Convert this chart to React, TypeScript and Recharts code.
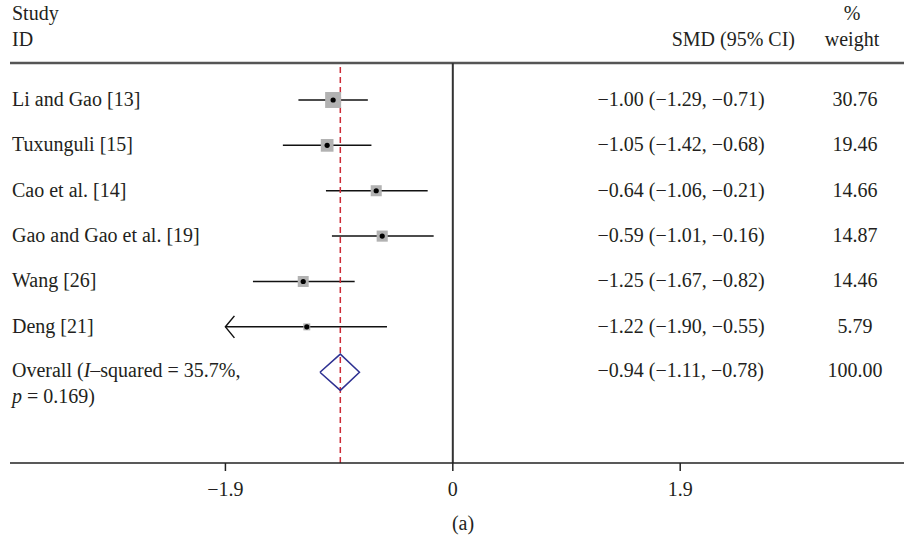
import React from 'react';
import { ScatterChart, Scatter, XAxis, YAxis, ReferenceLine, Customized } from 'recharts';

// ---- data ----
const studies = ['Li and Gao [13]', 'Tuxunguli [15]', 'Cao et al. [14]', 'Gao and Gao et al. [19]', 'Wang [26]', 'Deng [21]'];
const smd = [-1.0, -1.05, -0.64, -0.59, -1.25, -1.22];
const ciLow = [-1.29, -1.42, -1.06, -1.01, -1.67, -1.9];
const ciHigh = [-0.71, -0.68, -0.21, -0.16, -0.82, -0.55];
const weights = [30.76, 19.46, 14.66, 14.87, 14.46, 5.79];
const overallSmd = -0.94;
const overallLow = -1.11;
const overallHigh = -0.78;
const overallWeight = 100.0;
const overallI2 = '35.7%';
const overallP = '0.169';
const xTicks = [-1.9, 0, 1.9];

// ---- layout constants ----
const W = 904;
const H = 536;
const X_MIN = -3.7;
const X_MAX = 3.77;
const Y_MIN = -0.815;
const Y_MAX = 8.0;
const ARROW_LIMIT = -1.9;
const SQUARE_SCALE = 2.88;
const DIAMOND_HALF = 0.4;
const FONT = "'Liberation Serif', 'Times New Roman', serif";
const TEXT = '#231f20';
const OVERALL_ROW = studies.length;
const COL_STUDY = 12;
const COL_SMD = 597.5;
const COL_WEIGHT = 855;

const fmt = (v: number) => (v < 0 ? '\u2212' : '') + Math.abs(v).toFixed(2);
const fmtTick = (v: number) => (v < 0 ? '\u2212' : '') + String(Math.abs(v));

const studyData = studies.map((s, i) => ({ x: smd[i], y: i, w: weights[i] }));
const diamondData = [
  { x: overallLow, y: OVERALL_ROW },
  { x: overallSmd, y: OVERALL_ROW - DIAMOND_HALF },
  { x: overallHigh, y: OVERALL_ROW },
  { x: overallSmd, y: OVERALL_ROW + DIAMOND_HALF },
  { x: overallLow, y: OVERALL_ROW },
];
const rowData = [...studies.map((_, i) => ({ x: 0, y: i, row: i })), { x: 0, y: OVERALL_ROW, row: OVERALL_ROW }];

const common = { fontFamily: FONT, fontSize: 20, fill: TEXT };

const StudyMarker = (props: any) => {
  const { cx, cy, payload } = props;
  const s = SQUARE_SCALE * Math.sqrt(payload.w);
  return (
    <g>
      <rect x={cx - s / 2} y={cy - s / 2} width={s} height={s} fill="#b2b2b2" />
      <circle cx={cx} cy={cy} r={2.6} fill="#000" />
    </g>
  );
};

const ArrowSegment = (props: any) => {
  const { x1, y1, x2, y2, stroke, strokeWidth } = props;
  const left = Math.min(x1, x2);
  return (
    <g>
      <line x1={x1} y1={y1} x2={x2} y2={y2} stroke={stroke} strokeWidth={strokeWidth} />
      <polyline
        points={`${left + 9},${y1 - 11} ${left},${y1} ${left + 9},${y1 + 11}`}
        fill="none"
        stroke={stroke}
        strokeWidth={strokeWidth}
      />
    </g>
  );
};

const RowText = (props: any) => {
  const { cy, payload } = props;
  const i = payload.row as number;
  const y = cy;
  if (i === OVERALL_ROW) {
    return (
      <g>
        <text x={COL_STUDY} y={y + 5} {...common}>
          Overall (<tspan fontStyle="italic">I</tspan>–squared = {overallI2},
        </text>
        <text x={COL_STUDY} y={y + 31} {...common}>
          <tspan fontStyle="italic">p</tspan> = {overallP})
        </text>
        <text x={COL_SMD} y={y + 5} {...common}>
          {`${fmt(overallSmd)} (${fmt(overallLow)}, ${fmt(overallHigh)})`}
        </text>
        <text x={COL_WEIGHT} y={y + 5} textAnchor="middle" {...common}>
          {overallWeight.toFixed(2)}
        </text>
      </g>
    );
  }
  return (
    <g>
      <text x={COL_STUDY} y={y + 6} {...common}>
        {studies[i]}
      </text>
      <text x={COL_SMD} y={y + 6} {...common}>
        {`${fmt(smd[i])} (${fmt(ciLow[i])}, ${fmt(ciHigh[i])})`}
      </text>
      <text x={COL_WEIGHT} y={y + 6} textAnchor="middle" {...common}>
        {weights[i].toFixed(2)}
      </text>
    </g>
  );
};

const Headers = () => (
  <g>
    <text x={COL_STUDY} y={20} {...common}>Study</text>
    <text x={COL_STUDY} y={46} {...common}>ID</text>
    <text x={795} y={46} textAnchor="end" {...common}>SMD (95% CI)</text>
    <text x={852} y={20} textAnchor="middle" {...common}>%</text>
    <text x={852} y={46} textAnchor="middle" {...common}>weight</text>
    <text x={463} y={530} textAnchor="middle" {...common}>(a)</text>
  </g>
);

export default function App() {
  return (
    <div style={{ position: 'absolute', left: 0, top: 0, width: W, height: H, background: '#fff' }}>
      <ScatterChart width={W} height={H} margin={{ top: 63, right: 0, bottom: 33, left: 10 }}>
        <XAxis
          type="number"
          dataKey="x"
          domain={[X_MIN, X_MAX]}
          allowDataOverflow
          ticks={xTicks}
          interval={0}
          tickFormatter={fmtTick}
          height={40}
          tickSize={8}
          tickMargin={11}
          axisLine={{ stroke: '#222', strokeWidth: 1.5 }}
          tickLine={{ stroke: '#222', strokeWidth: 1.5 }}
          tick={{ fontFamily: FONT, fontSize: 20, fill: TEXT }}
        />
        <YAxis type="number" dataKey="y" domain={[Y_MIN, Y_MAX]} allowDataOverflow reversed hide width={0} />
        <ReferenceLine y={Y_MIN} stroke="#555" strokeWidth={2.5} />
        <ReferenceLine x={0} stroke="#333" strokeWidth={2} />
        {studies.map((s, i) => (
          <ReferenceLine
            key={s}
            segment={[
              { x: ciLow[i], y: i },
              { x: ciHigh[i], y: i },
            ]}
            stroke="#111"
            strokeWidth={1.5}
            shape={ciLow[i] <= ARROW_LIMIT ? ArrowSegment : undefined}
          />
        ))}
        <Scatter data={studyData} shape={StudyMarker} isAnimationActive={false} />
        <ReferenceLine x={overallSmd} stroke="#cc2936" strokeWidth={1.5} strokeDasharray="6 4" />
        <Scatter
          data={diamondData}
          line={{ stroke: '#2e3192', strokeWidth: 1.5 }}
          lineType="joint"
          shape={() => <g />}
          isAnimationActive={false}
        />
        <Scatter data={rowData} shape={RowText} isAnimationActive={false} />
        <Customized component={Headers} />
      </ScatterChart>
    </div>
  );
}
